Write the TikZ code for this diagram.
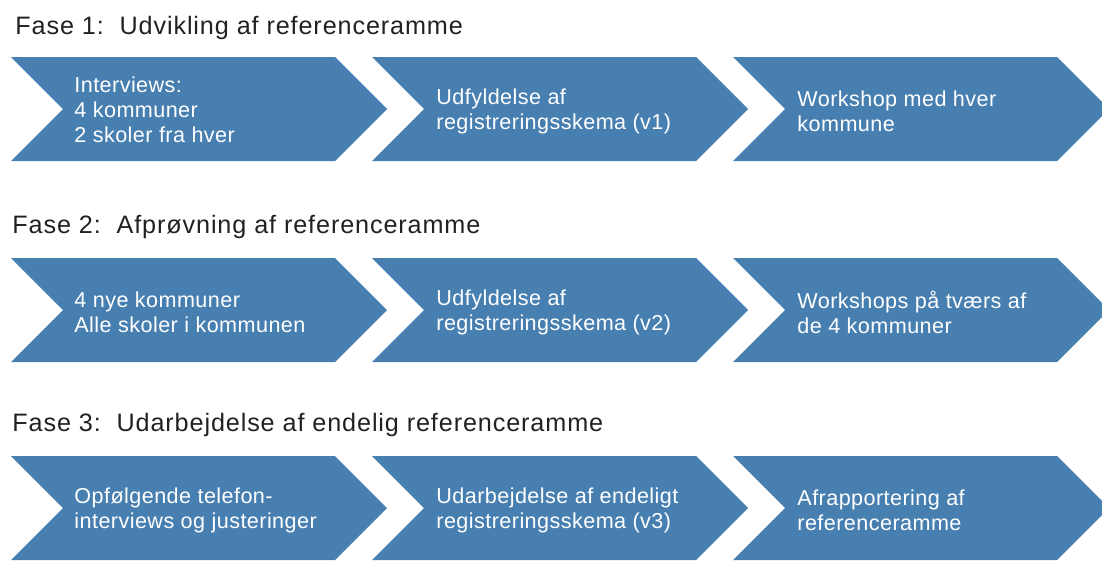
\documentclass[tikz,border=0pt]{standalone}
\usepackage{fontspec}
\setmainfont[LetterSpace=2]{Liberation Sans}
\newfontfamily\fasefont[LetterSpace=3.5]{Liberation Sans}

\definecolor{fasebla}{RGB}{72,127,177}

\newcommand*{\boxlen}{324}
\newcommand*{\tiplen}{52}
\newcommand*{\chevron}[2]{%
	\fill[fasebla] (#1,#2) -- ++(\boxlen,0) -- ++(\tiplen,\tiplen) -- ++(-\tiplen,\tiplen)
		-- ++(-\boxlen,0) -- ++(\tiplen,-\tiplen) -- cycle;}

\begin{document}
\begin{tikzpicture}
[
	fasetitle/.style={anchor=base west,inner sep=0pt,text=black!87,font=\fasefont\fontsize{12.6}{14}\selectfont},
	steptext/.style={anchor=west,inner sep=0pt,text=white,align=left,font=\fontsize{10.8}{12.5}\selectfont},
	x=0.5pt,
	y=-0.5pt
]

	\useasboundingbox (0,0) rectangle (1102,584);

	% fase 1
	\node[fasetitle] (fase1) at (15,34) {Fase 1:~~Udvikling af referenceramme};
	\chevron{11}{57}
	\chevron{372}{57}
	\chevron{733}{57}
	\node[steptext] (t11) at (74,110) {Interviews:\\4 kommuner\\2 skoler fra hver};
	\node[steptext] (t12) at (436,111) {Udfyldelse af\\registreringsskema (v1)};
	\node[steptext] (t13) at (797,111) {Workshop med hver\\kommune};

	% fase 2
	\node[fasetitle] (fase2) at (12,233) {Fase 2:~~Afprøvning af referenceramme};
	\chevron{11}{258}
	\chevron{372}{258}
	\chevron{733}{258}
	\node[steptext] (t21) at (74,312) {4 nye kommuner\\Alle skoler i kommunen};
	\node[steptext] (t22) at (436,312) {Udfyldelse af\\registreringsskema (v2)};
	\node[steptext] (t23) at (797,312) {Workshops på tværs af\\de 4 kommuner};

	% fase 3
	\node[fasetitle] (fase3) at (12,431) {Fase 3:~~Udarbejdelse af endelig referenceramme};
	\chevron{11}{456}
	\chevron{372}{456}
	\chevron{733}{456}
	\node[steptext] (t31) at (74,510) {Opfølgende telefon-\\interviews og justeringer};
	\node[steptext] (t32) at (436,510) {Udarbejdelse af endeligt\\registreringsskema (v3)};
	\node[steptext] (t33) at (797,510) {Afrapportering af\\referenceramme};

\end{tikzpicture}
\end{document}
